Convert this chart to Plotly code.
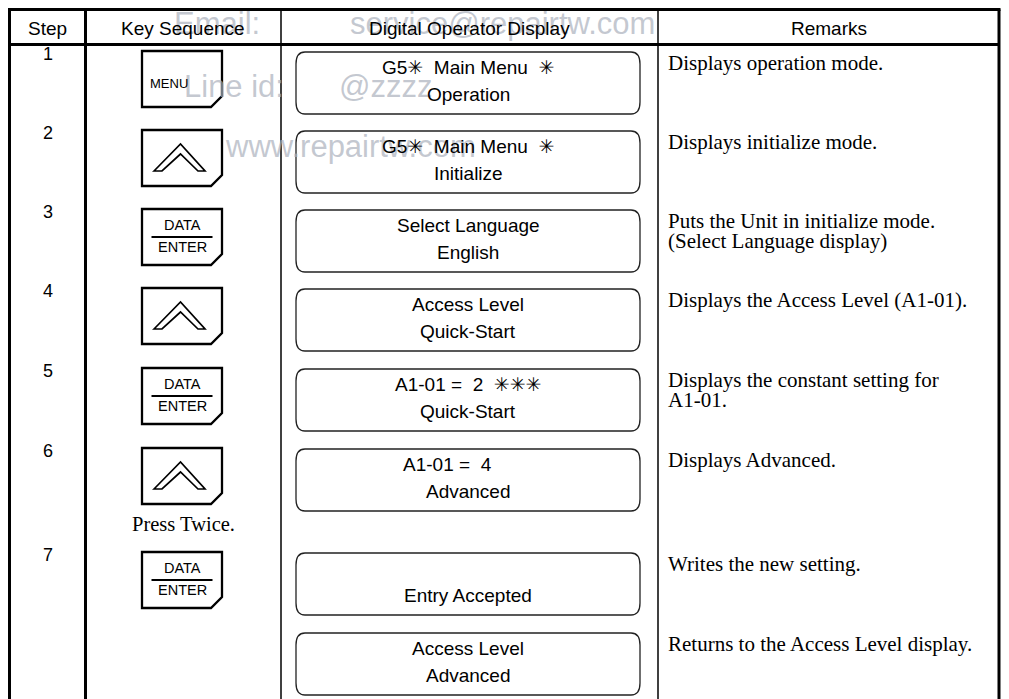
import plotly.graph_objects as go

# ---------------- data ----------------
headers = ["Step", "Key Sequence", "Digital Operator Display", "Remarks"]
steps = ["1", "2", "3", "4", "5", "6", "7", ""]
keys = ["MENU", "UP", "DATA/ENTER", "UP", "DATA/ENTER", "UP", "DATA/ENTER", ""]
key_notes = ["", "", "", "", "", "Press Twice.", "", ""]
S = "<span style='font-family:DejaVu Sans'>\u2733\ufe0e</span>"
NB = "\u00a0"
display_line1 = [
    f"G5{S}{NB}{NB}Main Menu{NB}{NB}{S}",
    f"G5{S}{NB}{NB}Main Menu{NB}{NB}{S}",
    "Select Language",
    "Access Level",
    f"A1-01 ={NB}{NB}2{NB}{NB}{S}{S}{S}",
    f"A1-01 ={NB}{NB}4{NB}{NB}{NB}{NB}{NB}{NB}{NB}{NB}",
    "",
    "Access Level",
]
display_line2 = ["Operation", "Initialize", "English", "Quick-Start", "Quick-Start",
                 "Advanced", "Entry Accepted", "Advanced"]
remarks = [
    ["Displays operation mode."],
    ["Displays initialize mode."],
    ["Puts the Unit in initialize mode.", "(Select Language display)"],
    ["Displays the Access Level (A1-01)."],
    ["Displays the constant setting for", "A1-01."],
    ["Displays Advanced."],
    ["Writes the new setting."],
    ["Returns to the Access Level display."],
]
watermarks = ["Email:", "service@repairtw.com", "Line id:", "@zzzz", "www.repairtw.com"]

# ---------------- layout ----------------
W, H = 1009, 699
PAD = 8  # page body margin: axis ranges start at PAD so data units equal page pixels
X_LEFT, X_C1, X_C2, X_C3, X_RIGHT = 9.5, 85.5, 281, 658, 999
Y_TOP, Y_HEAD = 9.5, 44.5
row_tops = [51, 130, 209, 288, 368, 448, 552, 632]
KEY_X, KEY_W, KEY_H = 142, 80, 56
BOX_X0, BOX_X1, BOX_H = 296, 640, 62
SANS = "Liberation Sans, Arial, sans-serif"
SERIF = "Liberation Serif, Times New Roman, serif"

fig = go.Figure()
fig.add_trace(go.Scatter(x=[PAD, W], y=[PAD, H], mode="markers",
                         marker=dict(opacity=0), hoverinfo="skip"))

shapes = []
annots = []

# watermarks (drawn first)
wm_pos = [(172, 23), (348, 23), (182, 86), (337, 86), (223, 146)]
for txt, (wx, wy) in zip(watermarks, wm_pos):
    annots.append(dict(x=wx, y=wy, text=txt, showarrow=False, xanchor="left", yanchor="middle",
                       font=dict(family=SANS, size=31, color="rgba(170,176,188,0.7)")))

# table grid
def line(x0, y0, x1, y1, w):
    shapes.append(dict(type="line", x0=x0, y0=y0, x1=x1, y1=y1, xref="x", yref="y",
                       line=dict(color="black", width=w)))

line(X_LEFT - 1.5, Y_TOP, X_RIGHT + 1.5, Y_TOP, 3)
line(X_LEFT, Y_HEAD, X_RIGHT, Y_HEAD, 3)
line(X_LEFT, Y_TOP, X_LEFT, H, 3)
line(X_RIGHT, Y_TOP, X_RIGHT, H, 3)
line(X_C1, Y_TOP, X_C1, H, 3)
line(X_C2, Y_TOP, X_C2, H, 1.5)
line(X_C3, Y_TOP, X_C3, H, 1.5)

col_centers = [(X_LEFT + X_C1) / 2, (X_C1 + X_C2) / 2, (X_C2 + X_C3) / 2, (X_C3 + X_RIGHT) / 2]
for txt, cx in zip(headers, col_centers):
    annots.append(dict(x=cx, y=(Y_TOP + Y_HEAD) / 2 + 1, text=txt, showarrow=False,
                       xanchor="center", yanchor="middle",
                       font=dict(family=SANS, size=19, color="black")))

def key_path(x, y):
    return (f"M {x},{y} L {x+KEY_W},{y} L {x+KEY_W},{y+KEY_H-11} "
            f"L {x+KEY_W-11},{y+KEY_H} L {x},{y+KEY_H} Z")

def chevron_path(x, y):
    cx = x + 38.5
    return (f"M {x+12},{y+41} L {cx},{y+14} L {x+63},{y+41} L {x+56},{y+41} "
            f"L {cx},{y+24} L {x+20},{y+41} Z")

def rbox_path(x0, y0, x1, y1, rx=9, ry=12):
    return (f"M {x0+rx},{y0} L {x1-rx},{y0} Q {x1},{y0} {x1},{y0+ry} L {x1},{y1-ry} "
            f"Q {x1},{y1} {x1-rx},{y1} L {x0+rx},{y1} Q {x0},{y1} {x0},{y1-ry} "
            f"L {x0},{y0+ry} Q {x0},{y0} {x0+rx},{y0} Z")

for i, top in enumerate(row_tops):
    # step number
    if steps[i]:
        annots.append(dict(x=col_centers[0], y=top + 3, text=steps[i], showarrow=False,
                           xanchor="center", yanchor="middle",
                           font=dict(family=SANS, size=18, color="black")))
    # key
    k = keys[i]
    if k:
        shapes.append(dict(type="path", path=key_path(KEY_X, top), xref="x", yref="y",
                           line=dict(color="black", width=2.3), fillcolor="white", layer="below"))
        if k == "UP":
            shapes.append(dict(type="path", path=chevron_path(KEY_X, top), xref="x", yref="y",
                               line=dict(color="black", width=1.7), fillcolor="white"))
        elif k == "MENU":
            annots.append(dict(x=KEY_X + 27, y=top + 32, text="MENU", showarrow=False,
                               xanchor="center", yanchor="middle",
                               font=dict(family=SANS, size=13, color="black")))
        else:
            a, b = k.split("/")
            cx = KEY_X + KEY_W / 2
            annots.append(dict(x=cx, y=top + 16, text=a, showarrow=False, xanchor="center",
                               yanchor="middle", font=dict(family=SANS, size=14.5, color="black")))
            annots.append(dict(x=cx, y=top + 38, text=b, showarrow=False, xanchor="center",
                               yanchor="middle", font=dict(family=SANS, size=14.5, color="black")))
            shapes.append(dict(type="line", x0=cx - 30.5, x1=cx + 30.5, y0=top + 28, y1=top + 28,
                               xref="x", yref="y", line=dict(color="black", width=1.8)))
    if key_notes[i]:
        annots.append(dict(x=col_centers[1], y=top + KEY_H + 20, text=key_notes[i],
                           showarrow=False, xanchor="center", yanchor="middle",
                           font=dict(family=SERIF, size=20.5, color="black")))
    # display box
    by = top + 1
    shapes.append(dict(type="path", path=rbox_path(BOX_X0, by, BOX_X1, by + BOX_H),
                       xref="x", yref="y", line=dict(color="#222222", width=1.3)))
    bcx = (BOX_X0 + BOX_X1) / 2
    if display_line1[i]:
        annots.append(dict(x=bcx, y=by + 15, text=display_line1[i], showarrow=False,
                           xanchor="center", yanchor="middle",
                           font=dict(family=SANS, size=19, color="black")))
    annots.append(dict(x=bcx, y=by + 42, text=display_line2[i], showarrow=False,
                       xanchor="center", yanchor="middle",
                       font=dict(family=SANS, size=19, color="black")))
    # remarks
    for j, rl in enumerate(remarks[i]):
        annots.append(dict(x=X_C3 + 8, y=top + 12 + 20 * j, text=rl, showarrow=False,
                           xanchor="left", yanchor="middle",
                           font=dict(family=SERIF, size=21, color="black")))

fig.update_layout(
    width=W - PAD, height=H - PAD, margin=dict(l=0, r=0, t=0, b=0),
    paper_bgcolor="white", plot_bgcolor="white", showlegend=False,
    xaxis=dict(range=[PAD, W], visible=False, fixedrange=True),
    yaxis=dict(range=[H, PAD], visible=False, fixedrange=True),
    shapes=shapes, annotations=annots,
)
fig.write_html("out.html", config={"displayModeBar": False})
